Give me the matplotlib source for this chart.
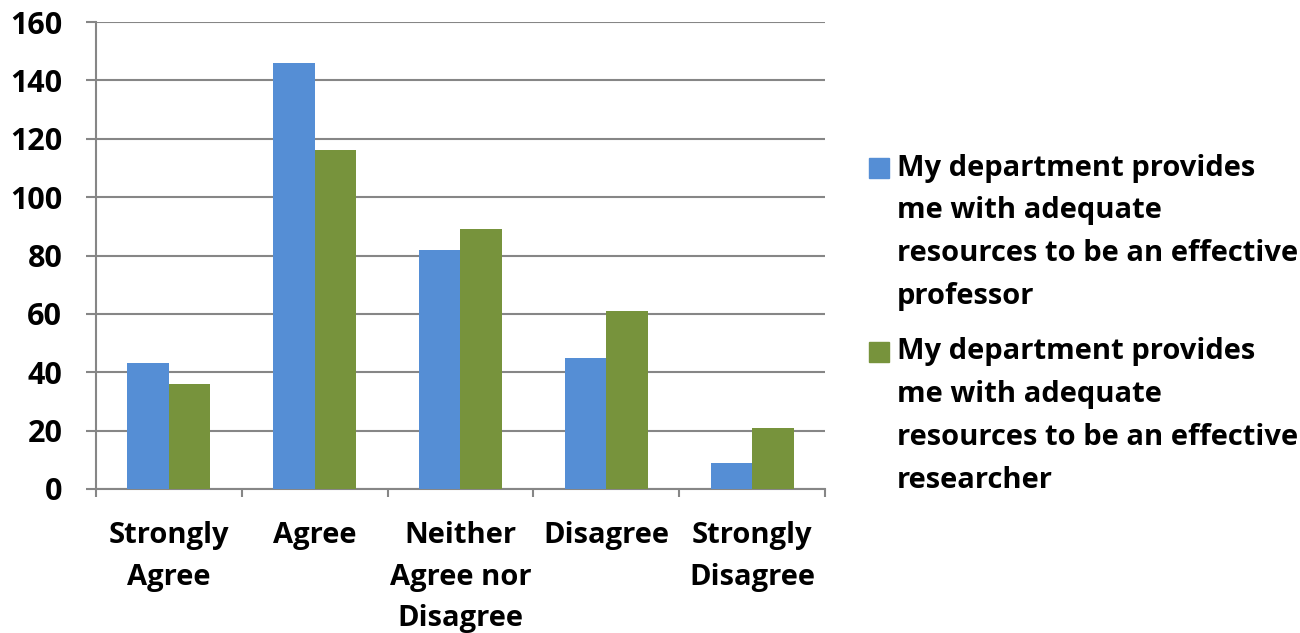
import matplotlib.pyplot as plt
import numpy as np
from matplotlib.patches import Rectangle

categories = ["Strongly\nAgree", "Agree", "Neither\nAgree nor\nDisagree", "Disagree", "Strongly\nDisagree"]
professor = [43, 146, 82, 45, 9]
researcher = [36, 116, 89, 61, 21]
series_labels = [
    "My department provides\nme with adequate\nresources to be an effective\nprofessor",
    "My department provides\nme with adequate\nresources to be an effective\nresearcher",
]
series_colors = ['#558ED5', '#77933C']
y_ticks = [0, 20, 40, 60, 80, 100, 120, 140, 160]

plt.rcParams['font.family'] = ['Open Sans', 'DejaVu Sans']
plt.rcParams['font.weight'] = 'bold'
FS = 21

fig = plt.figure(figsize=(13, 6.33), dpi=100)
ax = fig.add_axes([0.0738, 0.2275, 0.5608, 0.7377])

x = np.arange(len(categories))
w = 0.285
ax.bar(x - w / 2, professor, w, color=series_colors[0], zorder=3)
ax.bar(x + w / 2, researcher, w, color=series_colors[1], zorder=3)

ax.set_xlim(-0.5, len(categories) - 0.5)
ax.set_ylim(0, 160)
ax.set_yticks(y_ticks)
ax.set_yticklabels([str(v) for v in y_ticks], fontsize=22, fontweight='bold')
ax.yaxis.grid(True, color='#868686', linewidth=1.5, zorder=0)
ax.tick_params(axis='y', length=7.2, width=1.5, color='#868686', pad=17)

# x ticks at category boundaries, labels at centres
ax.set_xticks(np.arange(len(categories) + 1) - 0.5)
ax.set_xticklabels([])
ax.set_xticks(x, minor=True)
ax.set_xticklabels(categories, minor=True, fontsize=FS, fontweight='bold', linespacing=1.58)
ax.tick_params(axis='x', which='major', length=6, width=1.5, color='#868686')
ax.tick_params(axis='x', which='minor', length=0, pad=23)

for s in ['top', 'right']:
    ax.spines[s].set_visible(False)
for s in ['left', 'bottom']:
    ax.spines[s].set_color('#868686')
    ax.spines[s].set_linewidth(1.5)

# legend drawn by hand to match the layout
tx = 897 / 1300
top = [168, 352]
for label, color, y0 in zip(series_labels, series_colors, top):
    fig.patches.append(Rectangle((869 / 1300, 1 - (y0 + 10) / 633), 20 / 1300, 20 / 633,
                                 transform=fig.transFigure, color=color))
    for j, line in enumerate(label.split("\n")):
        fig.text(tx, 1 - (y0 + j * 42.7) / 633, line, fontsize=FS, fontweight='bold',
                 va='center', ha='left')

fig.savefig('out.png', dpi=100)
